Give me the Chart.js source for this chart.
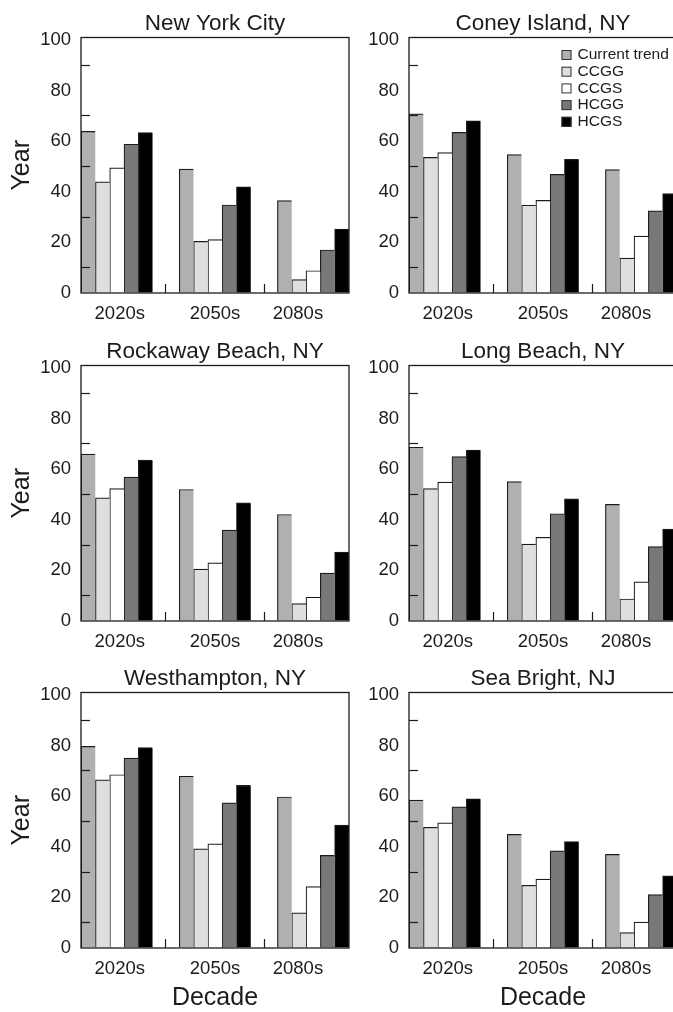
<!DOCTYPE html>
<html>
<head>
<meta charset="utf-8">
<script src="https://cdn.jsdelivr.net/npm/chart.js@4.4.1/dist/chart.umd.min.js"></script>
<style>
  html, body { margin: 0; padding: 0; background: #fff; overflow: hidden; }
  #page { position: relative; width: 673px; height: 1012px; overflow: hidden; background: #fff; }
  .panel { position: absolute; }
</style>
</head>
<body>
<div id="page">
  <div class="panel" style="left:0px;top:0px"><canvas id="c0" width="352" height="329"></canvas></div>
  <div class="panel" style="left:328px;top:0px"><canvas id="c1" width="352" height="329"></canvas></div>
  <div class="panel" style="left:0px;top:328px"><canvas id="c2" width="352" height="329"></canvas></div>
  <div class="panel" style="left:328px;top:328px"><canvas id="c3" width="352" height="329"></canvas></div>
  <div class="panel" style="left:0px;top:655px"><canvas id="c4" width="352" height="359"></canvas></div>
  <div class="panel" style="left:328px;top:655px"><canvas id="c5" width="352" height="359"></canvas></div>
</div>
<script>
// Categories and tick labels
const decades = ['2020s', '2050s', '2080s'];
const scenarios = ['Current trend', 'CCGG', 'CCGS', 'HCGG', 'HCGS'];
const yTicks = [0, 10, 20, 30, 40, 50, 60, 70, 80, 90, 100];

// Year values: one row per scenario, one column per decade
const newYorkCity = [
    [63.9, 49.0, 36.5],
    [43.9, 20.4, 5.3],
    [49.5, 21.1, 8.8],
    [58.8, 34.8, 17.0],
    [63.4, 42.0, 25.3]
];
const coneyIsland = [
    [70.8, 54.7, 48.8],
    [53.6, 34.7, 13.8],
    [55.5, 36.6, 22.5],
    [63.5, 46.9, 32.5],
    [68.1, 52.8, 39.3]
];
const rockawayBeach = [
    [66.0, 52.0, 42.1],
    [48.7, 20.5, 6.9],
    [52.3, 23.0, 9.4],
    [56.9, 35.9, 18.9],
    [63.6, 46.7, 27.2]
];
const longBeach = [
    [68.7, 55.1, 46.1],
    [52.3, 30.4, 8.7],
    [54.9, 33.1, 15.5],
    [65.0, 42.4, 29.4],
    [67.6, 48.3, 36.3]
];
const westhampton = [
    [79.7, 67.9, 59.7],
    [66.5, 39.2, 13.9],
    [68.5, 41.2, 24.3],
    [75.1, 57.4, 36.6],
    [79.2, 64.3, 48.6]
];
const seaBright = [
    [58.5, 44.9, 37.0],
    [47.7, 24.8, 6.1],
    [49.5, 27.2, 10.2],
    [55.8, 38.4, 21.1],
    [59.0, 42.1, 28.5]
];

const siteNames = ['New York City', 'Coney Island, NY', 'Rockaway Beach, NY',
                   'Long Beach, NY', 'Westhampton, NY', 'Sea Bright, NJ'];
const siteValues = [newYorkCity, coneyIsland, rockawayBeach, longBeach, westhampton, seaBright];

// Styling
const FONT = 'Liberation Sans, Arial, Helvetica, sans-serif';
const INK = '#1c1c1c';
const scenarioColors = ['#b0b0b0', '#dedede', '#ffffff', '#787878', '#000000'];
// small nudge of the decade labels, in decade units
const labelShift = [0.03, 0, -0.155];

// frame round the plot area, drawn over the bars
const framePlugin = {
    id: 'frame',
    afterDatasetsDraw(chart) {
        const a = chart.chartArea;
        const ctx = chart.ctx;
        ctx.save();
        ctx.strokeStyle = INK;
        ctx.lineWidth = 1.3;
        ctx.strokeRect(a.left, a.top, a.right - a.left, a.bottom - a.top);
        ctx.restore();
    }
};

// legend drawn inside the plot area (top right)
const insideLegend = {
    id: 'insideLegend',
    afterDraw(chart, args, opts) {
        if (!opts.show || !chart.legend) return;
        const items = chart.legend.legendItems || [];
        const ctx = chart.ctx;
        const x = chart.chartArea.left + opts.offsetX;
        ctx.save();
        ctx.font = '15.5px ' + FONT;
        ctx.textBaseline = 'middle';
        items.forEach((item, i) => {
            const y = chart.chartArea.top + opts.offsetY + i * opts.spacing;
            ctx.fillStyle = item.fillStyle;
            ctx.fillRect(x, y - 5, 10, 10);
            ctx.strokeStyle = '#333';
            ctx.lineWidth = 1;
            ctx.strokeRect(x + 0.5, y - 4.5, 9, 9);
            ctx.fillStyle = INK;
            ctx.fillText(item.text, x + 16, y);
        });
        ctx.restore();
    }
};

function xTickDefs() {
    const defs = [];
    decades.forEach((d, i) => {
        defs.push({ value: i + labelShift[i], label: d });
        if (i < decades.length - 1) defs.push({ value: i + 0.5, label: '' });
    });
    return defs.sort((a, b) => a.value - b.value);
}

function makePanel(index) {
    const col = index % 2;
    const row = Math.floor(index / 2);
    const values = siteValues[index];
    const xDefs = xTickDefs();
    const lastRow = row === 2;

    const datasets = scenarios.map((name, s) => ({
        label: name,
        data: values[s].map((v, i) => ({ x: i, y: v })),
        backgroundColor: scenarioColors[s],
        borderColor: INK,
        borderWidth: { left: 1.2, top: 1.2, right: 0, bottom: 0 },
        borderSkipped: false,
        barThickness: 14.3
    }));

    const ctx = document.getElementById('c' + index).getContext('2d');
    return new Chart(ctx, {
        type: 'bar',
        data: { datasets: datasets },
        plugins: [framePlugin, insideLegend],
        options: {
            responsive: false,
            animation: false,
            layout: { padding: { left: 0, right: 3, top: 0, bottom: 0 } },
            plugins: {
                legend: { display: false },
                tooltip: { enabled: false },
                title: {
                    display: true,
                    text: siteNames[index],
                    fullSize: false,
                    color: INK,
                    font: { family: FONT, size: 22.5, weight: 'normal', lineHeight: 1 },
                    padding: { top: 12.5, bottom: 2.5 }
                },
                insideLegend: { show: index === 1, offsetX: 152.5, offsetY: 17.5, spacing: 16.7 }
            },
            scales: {
                x: {
                    type: 'linear',
                    min: -0.365,
                    max: 2.365,
                    offset: false,
                    z: 1,
                    afterBuildTicks: scale => {
                        scale.ticks = xDefs.map(t => ({ value: t.value }));
                    },
                    afterFit: scale => {
                        scale.height = lastRow ? 66 : 36;
                    },
                    ticks: {
                        autoSkip: false,
                        maxRotation: 0,
                        padding: 21,
                        color: INK,
                        font: { family: FONT, size: 18.5, lineHeight: 1 },
                        callback: (v, i) => xDefs[i] ? xDefs[i].label : ''
                    },
                    grid: {
                        display: true,
                        offset: false,
                        z: 1,
                        drawOnChartArea: false,
                        drawTicks: true,
                        tickLength: -9,
                        tickWidth: 1.2,
                        tickColor: c => (xDefs[c.index] && xDefs[c.index].label === '') ? INK : 'transparent'
                    },
                    border: { display: false },
                    title: {
                        display: lastRow,
                        text: 'Decade',
                        color: INK,
                        font: { family: FONT, size: 25 },
                        padding: { top: 0, bottom: 1 }
                    }
                },
                y: {
                    type: 'linear',
                    min: 0,
                    max: 101,
                    z: 1,
                    afterBuildTicks: scale => {
                        scale.ticks = yTicks.map(v => ({ value: v }));
                    },
                    afterFit: scale => {
                        scale.width = 81;
                    },
                    ticks: {
                        padding: 19,
                        color: INK,
                        font: { family: FONT, size: 18.5 },
                        callback: v => (v % 20 === 0 ? String(v) : '')
                    },
                    grid: {
                        display: true,
                        z: 1,
                        drawOnChartArea: false,
                        drawTicks: true,
                        tickLength: -9,
                        tickWidth: 1.2,
                        tickColor: c => (c.tick && c.tick.value % 20 !== 0) ? INK : 'transparent'
                    },
                    border: { display: false },
                    title: {
                        display: col === 0,
                        text: 'Year',
                        color: INK,
                        font: { family: FONT, size: 25 },
                        padding: { top: 7, bottom: 0 }
                    }
                }
            }
        }
    });
}

document.addEventListener('DOMContentLoaded', () => {
    for (let i = 0; i < siteValues.length; i++) {
        makePanel(i);
    }
});
</script>
</body>
</html>
